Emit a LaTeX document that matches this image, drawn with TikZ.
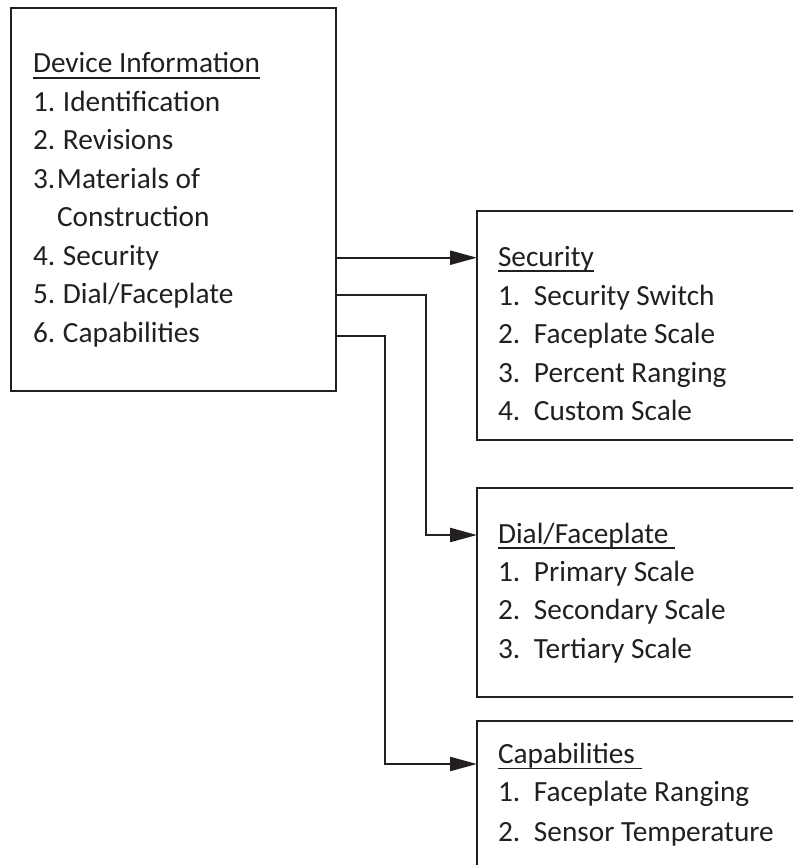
\documentclass[tikz,border=0pt]{standalone}
\usepackage{fontspec}
\setmainfont{Carlito}
\usetikzlibrary{arrows.meta}
\definecolor{ink}{HTML}{231F20}
\newcommand\hd[1]{\setbox0\hbox{#1}\rlap{\vrule height -4.2pt depth 5.8pt width \wd0}\box0}
\newcommand\itm[3]{\makebox[#1][l]{#2}#3}
\begin{document}
\begin{tikzpicture}[x=1pt,y=-1pt,
  box/.style={draw=ink,line width=2.4pt,rectangle,inner sep=0pt,outer sep=0pt,anchor=north west},
  txt/.style={anchor=base west,inner sep=0pt,outer sep=0pt,text=ink,font=\fontsize{29.3}{35}\selectfont},
  conn/.style={draw=ink,line width=2.4pt,-{Triangle[length=27pt,width=14pt]}}]
\useasboundingbox (0,0) rectangle (793,865);
\clip (0,0) rectangle (793,865);
% boxes
\node[box,minimum width=325pt,minimum height=383pt] (dev) at (11,8) {};
\node[box,minimum width=340pt,minimum height=229pt] (sec) at (477,211) {};
\node[box,minimum width=340pt,minimum height=209pt] (dial) at (477,488) {};
\node[box,minimum width=340pt,minimum height=200pt] (cap) at (477,721) {};
% left text
\node[txt] (d0) at (33,72.7) {\hd{Device Information}};
\node[txt] (d1) at (33,111.2) {\itm{30pt}{1.}{Identification}};
\node[txt] (d2) at (33,149.7) {\itm{30pt}{2.}{Revisions}};
\node[txt] (d3) at (33,188.2) {\itm{24pt}{3.}{Materials of}};
\node[txt] (d3b) at (57,226.7) {Construction};
\node[txt] (d4) at (33,265.2) {\itm{30pt}{4.}{Security}};
\node[txt] (d5) at (33,303.7) {\itm{30pt}{5.}{Dial/Faceplate}};
\node[txt] (d6) at (33,342.2) {\itm{30pt}{6.}{Capabilities}};
% security
\node[txt] (s0) at (498,266) {\hd{Security}};
\node[txt] (s1) at (498,305) {\itm{36pt}{1.}{Security Switch}};
\node[txt] (s2) at (498,343.5) {\itm{36pt}{2.}{Faceplate Scale}};
\node[txt] (s3) at (498,382) {\itm{36pt}{3.}{Percent Ranging}};
\node[txt] (s4) at (498,420.5) {\itm{36pt}{4.}{Custom Scale}};
% dial
\node[txt] (f0) at (498,543) {\hd{Dial/Faceplate\ }};
\node[txt] (f1) at (498,581) {\itm{36pt}{1.}{Primary Scale}};
\node[txt] (f2) at (498,619.5) {\itm{36pt}{2.}{Secondary Scale}};
\node[txt] (f3) at (498,658) {\itm{36pt}{3.}{Tertiary Scale}};
% capabilities
\node[txt] (c0) at (498,763.3) {\hd{Capabilities\ }};
\node[txt] (c1) at (498,801.7) {\itm{36pt}{1.}{Faceplate Ranging}};
\node[txt] (c2) at (498,841) {\itm{36pt}{2.}{Sensor Temperature}};
% connectors
\coordinate (y4) at (0,257.7);
\coordinate (y5) at (0,295);
\coordinate (y6) at (0,335.7);
\coordinate (k5) at (425.7,535);
\coordinate (k6) at (385,764);
\draw[conn] (dev.east |- y4) -- (sec.west |- y4);
\draw[conn] (dev.east |- y5) -| (k5) -- (dial.west |- k5);
\draw[conn] (dev.east |- y6) -| (k6) -- (cap.west |- k6);
\end{tikzpicture}
\end{document}
